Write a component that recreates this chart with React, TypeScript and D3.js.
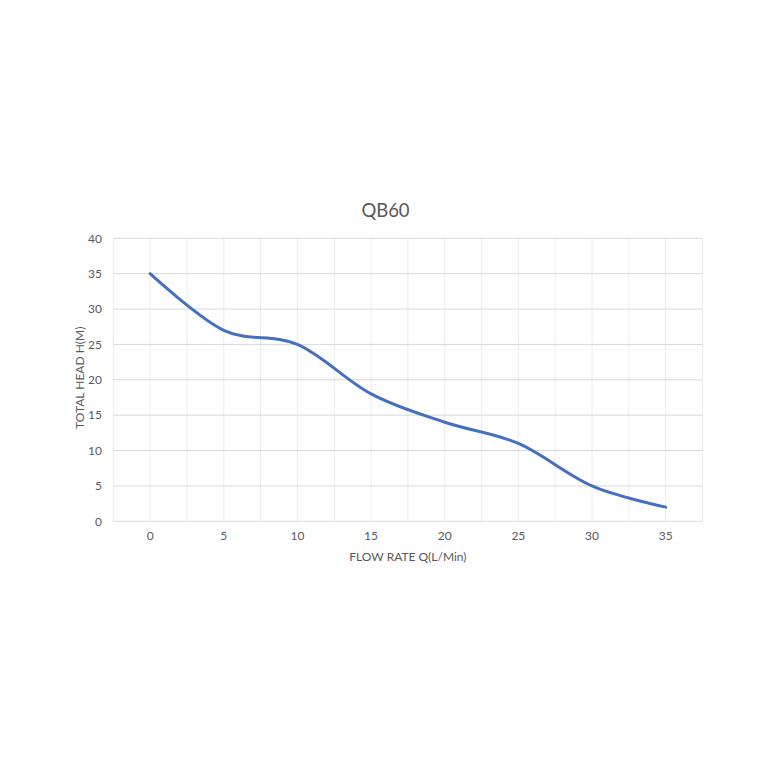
import React from "react";
import * as d3 from "d3";

const flowRates = [0, 5, 10, 15, 20, 25, 30, 35];
const totalHead = [35, 27, 25, 18, 14, 11, 5, 2];
const xTicks = [0, 5, 10, 15, 20, 25, 30, 35];
const yTicks = [0, 5, 10, 15, 20, 25, 30, 35, 40];
const xGrid = d3.range(-2.5, 37.6, 2.5);
const title = "QB60";
const xTitle = "FLOW RATE Q(L/Min)";
const yTitle = "TOTAL HEAD H(M)";

const W = 773;
const H = 773;
const plot = { left: 113.3, right: 702.5, top: 238.3, bottom: 521.3 };
const FONT = "Lato, 'Open Sans', sans-serif";
const TEXT = "#595959";

export default function App() {
  const x = d3.scaleLinear().domain([-2.5, 37.5]).range([plot.left, plot.right]);
  const y = d3.scaleLinear().domain([0, 40]).range([plot.bottom, plot.top]);
  const pts: [number, number][] = flowRates.map((q, i) => [q, totalHead[i]]);
  const line = d3
    .line<[number, number]>()
    .x((d) => x(d[0]))
    .y((d) => y(d[1]))
    .curve(d3.curveCardinal.tension(0));
  const cx = (plot.left + plot.right) / 2;
  const cy = (plot.top + plot.bottom) / 2;
  return (
    <svg
      width={W}
      height={H}
      style={{ position: "absolute", left: 0, top: 0, background: "#fff" }}
      fontFamily={FONT}
    >
      <rect x={0} y={0} width={W} height={H} fill="#fff" />
      {xGrid.map((v) => (
        <line key={"vx" + v} x1={x(v)} x2={x(v)} y1={plot.top} y2={plot.bottom} stroke="#ececec" strokeWidth={1} />
      ))}
      {yTicks.map((v) => (
        <line key={"hy" + v} x1={plot.left} x2={plot.right} y1={y(v)} y2={y(v)} stroke="#d9d9d9" strokeWidth={1} />
      ))}
      {yTicks.map((v) => (
        <text key={"ty" + v} x={102} y={y(v)} dy="0.35em" textAnchor="end" fontSize={12} fill={TEXT}>
          {v}
        </text>
      ))}
      {xTicks.map((v) => (
        <text key={"tx" + v} x={x(v)} y={540} textAnchor="middle" fontSize={12} fill={TEXT}>
          {v}
        </text>
      ))}
      <path d={line(pts) || ""} fill="none" stroke="#4570BD" strokeWidth={3} strokeLinecap="round" strokeLinejoin="round" />
      <text x={385.5} y={217} textAnchor="middle" fontSize={18.5} fill={TEXT}>
        {title}
      </text>
      <text x={cx} y={561} textAnchor="middle" fontSize={12} fill={TEXT}>
        {xTitle}
      </text>
      <text
        transform={`translate(83.5, ${cy - 2}) rotate(-90)`}
        textAnchor="middle"
        fontSize={12}
        fill={TEXT}
      >
        {yTitle}
      </text>
    </svg>
  );
}
